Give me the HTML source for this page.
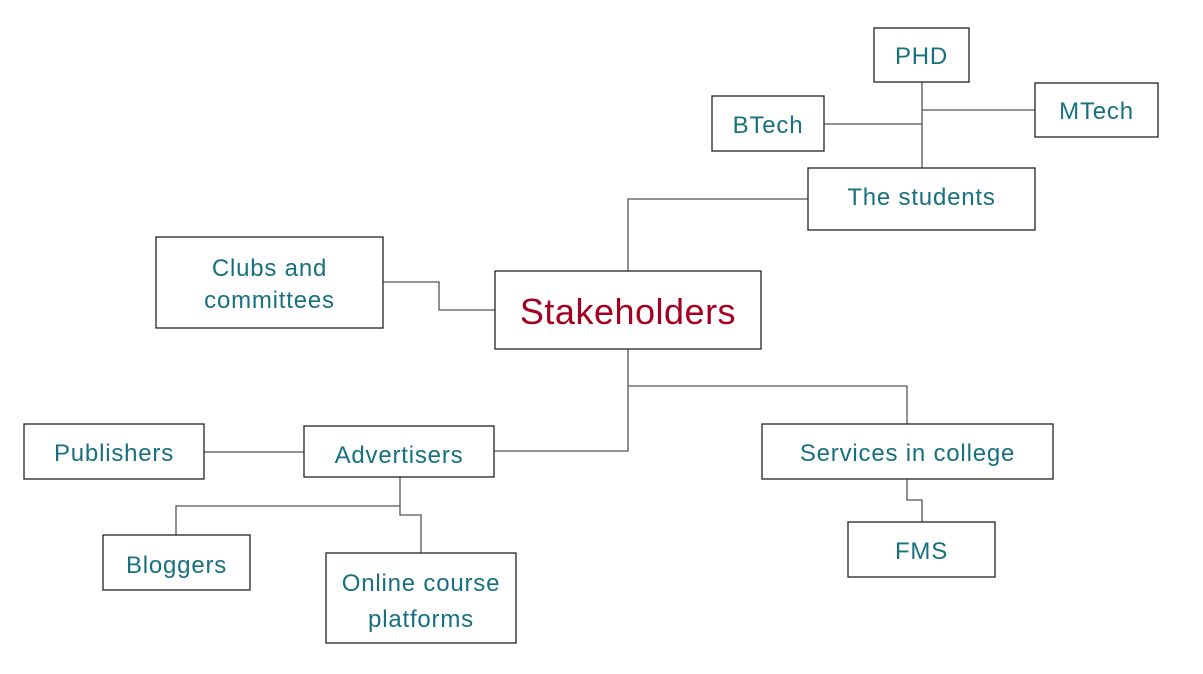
<!DOCTYPE html>
<html><head><meta charset="utf-8"><style>
html,body{margin:0;padding:0;background:#fff;}
svg{display:block;}
text{font-family:"Liberation Sans",sans-serif;fill:#17707f;font-size:24px;letter-spacing:0.8px;text-anchor:middle;}
rect{fill:#fff;stroke:#222;stroke-width:1.3;}
path{fill:none;stroke:#555;stroke-width:1.3;}
</style></head><body>
<svg width="1203" height="674" viewBox="0 0 1203 674">
<path d="M922 82V168M922 110H1035M824 124H922"/>
<path d="M808 199H628V271"/>
<path d="M383 282H439V310H495"/>
<path d="M628 349V451H494M628 386H907V424"/>
<path d="M907 479V500H922V522"/>
<path d="M204 452H304"/>
<path d="M400 477V506H176V535M400 506V515H421V553"/>
<rect x="874" y="28" width="95" height="54"/><text x="921.5" y="64">PHD</text>
<rect x="712" y="96" width="112" height="55"/><text x="768" y="133">BTech</text>
<rect x="1035" y="83" width="123" height="54"/><text x="1096.5" y="119">MTech</text>
<rect x="808" y="168" width="227" height="62"/><text x="921.5" y="205">The students</text>
<rect x="156" y="237" width="227" height="91"/><text x="269.5" y="276">Clubs and</text><text x="269.5" y="308">committees</text>
<rect x="495" y="271" width="266" height="78"/><text x="628" y="324" style="fill:#a50021;font-size:36px;letter-spacing:0.5px">Stakeholders</text>
<rect x="24" y="424" width="180" height="55"/><text x="114" y="461">Publishers</text>
<rect x="304" y="426" width="190" height="51"/><text x="399" y="463">Advertisers</text>
<rect x="762" y="424" width="291" height="55"/><text x="907.5" y="461">Services in college</text>
<rect x="848" y="522" width="147" height="55"/><text x="921.5" y="559">FMS</text>
<rect x="103" y="535" width="147" height="55"/><text x="176.5" y="573">Bloggers</text>
<rect x="326" y="553" width="190" height="90"/><text x="421" y="591">Online course</text><text x="421" y="627">platforms</text>
</svg>
</body></html>
